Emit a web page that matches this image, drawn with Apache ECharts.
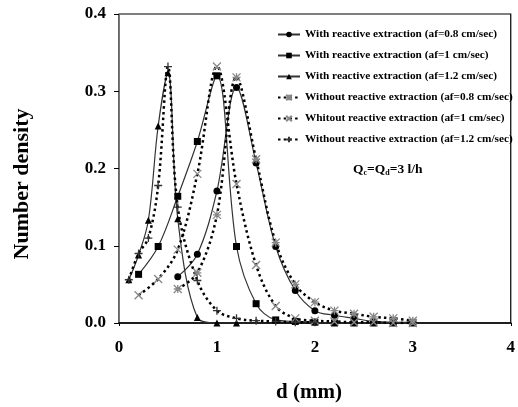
<!DOCTYPE html>
<html>
<head>
<meta charset="utf-8">
<script src="https://cdn.jsdelivr.net/npm/echarts@6/dist/echarts.min.js"></script>
<style>
  html, body { margin: 0; padding: 0; background: #fff; }
  #chart { width: 518px; height: 407px; }
</style>
</head>
<body>
<div id="chart"></div>
<script>
// legend names
var names = [
  'With reactive extraction (af=0.8 cm/sec)',
  'With reactive extraction (af=1 cm/sec)',
  'With reactive extraction (af=1.2 cm/sec)',
  'Without reactive extraction (af=0.8 cm/sec)',
  'Whitout reactive extraction (af=1 cm/sec)',
  'Without reactive extraction (af=1.2 cm/sec)'
]

// with reactive extraction, af=0.8
var xWith08 = [0.6, 0.8, 1.0, 1.2, 1.4, 1.6, 1.8, 2.0, 2.2, 2.4, 2.6, 2.8, 3.0]
var yWith08 = [0.060, 0.089, 0.171, 0.305, 0.207, 0.099, 0.042, 0.016, 0.010, 0.006, 0.002, 0.001, 0.001]
// with reactive extraction, af=1
var xWith1 = [0.2, 0.4, 0.6, 0.8, 1.0, 1.2, 1.4, 1.6, 1.8, 2.0, 2.2, 2.4, 2.6, 2.8, 3.0]
var yWith1 = [0.063, 0.099, 0.164, 0.235, 0.320, 0.099, 0.025, 0.004, 0.002, 0.001, 0, 0, 0, 0, 0]
// with reactive extraction, af=1.2
var xWith12 = [0.1, 0.2, 0.3, 0.4, 0.5, 0.6, 0.8, 1.0, 1.2]
var yWith12 = [0.056, 0.088, 0.133, 0.255, 0.324, 0.135, 0.007, 0, 0]
// without reactive extraction, af=0.8
var xWo08 = [0.6, 0.8, 1.0, 1.2, 1.4, 1.6, 1.8, 2.0, 2.2, 2.4, 2.6, 2.8, 3.0]
var yWo08 = [0.044, 0.065, 0.140, 0.318, 0.212, 0.104, 0.050, 0.027, 0.016, 0.012, 0.008, 0.006, 0.003]
// without reactive extraction, af=1
var xWo1 = [0.2, 0.4, 0.6, 0.8, 1.0, 1.2, 1.4, 1.6, 1.8, 2.0, 2.2, 2.4, 2.6, 2.8, 3.0]
var yWo1 = [0.036, 0.057, 0.095, 0.193, 0.332, 0.180, 0.075, 0.022, 0.006, 0.003, 0.002, 0.001, 0.001, 0, 0]
// without reactive extraction, af=1.2
var xWo12 = [0.1, 0.2, 0.3, 0.4, 0.5, 0.6, 0.8, 1.0, 1.2, 1.4, 1.6, 1.8, 2.0]
var yWo12 = [0.056, 0.090, 0.110, 0.178, 0.332, 0.150, 0.055, 0.016, 0.006, 0.003, 0.002, 0.001, 0.001]

var xTicks = [0, 1, 2, 3, 4]
var yTicks = [0, 0.1, 0.2, 0.3, 0.4]

var font = '"Liberation Serif", "Times New Roman", serif'

function pairs (xs, ys) {
  return xs.map(function (x, i) { return [x, ys[i]] })
}

var starPath = 'path://M0,0L10,10M10,0L0,10M5,0L5,10M0,5L10,5'
var crossPath = 'path://M0,0L10,10M10,0L0,10'
var plusPath = 'path://M5,0L5,10M0,5L10,5'

function solid (name, xs, ys, symbol, size) {
  return {
    name: name,
    type: 'line',
    data: pairs(xs, ys),
    smooth: 0.35,
    symbol: symbol,
    symbolSize: size,
    lineStyle: { color: '#333', width: 1.2, type: 'solid' },
    itemStyle: { color: '#000' }
  }
}

function dotted (name, xs, ys, symbol, color) {
  return {
    name: name,
    type: 'line',
    data: pairs(xs, ys),
    smooth: 0.35,
    symbol: symbol,
    symbolSize: 8,
    lineStyle: { color: '#000', width: 2.5, type: [2.5, 3.2] },
    itemStyle: { color: 'transparent', borderColor: color, borderWidth: 1.3 }
  }
}

var chart = echarts.init(document.getElementById('chart'))
chart.setOption({
  animation: false,
  backgroundColor: '#fff',
  grid: {
    left: 119, right: 2, top: 14, bottom: 84,
    show: true, borderColor: '#000', borderWidth: 1.2
  },
  legend: {
    data: names,
    orient: 'vertical',
    left: 272,
    top: 24,
    itemWidth: 22,
    itemHeight: 7,
    itemGap: 10,
    textStyle: { fontFamily: font, fontWeight: 'bold', fontSize: 11.3, color: '#000' }
  },
  xAxis: {
    type: 'value',
    min: xTicks[0],
    max: xTicks[xTicks.length - 1],
    interval: 1,
    axisLine: { lineStyle: { color: '#000', width: 1.6 } },
    axisTick: { show: true, length: 3, lineStyle: { color: '#000' } },
    splitLine: { show: false },
    axisLabel: { fontFamily: font, fontWeight: 'bold', fontSize: 17, color: '#000', margin: 16 }
  },
  yAxis: {
    type: 'value',
    min: yTicks[0],
    max: yTicks[yTicks.length - 1],
    interval: 0.1,
    axisLine: { show: true, lineStyle: { color: '#777', width: 1 } },
    axisTick: { show: true, length: 5, lineStyle: { color: '#000' } },
    splitLine: { show: false },
    axisLabel: {
      fontFamily: font, fontWeight: 'bold', fontSize: 17, color: '#000', margin: 13,
      formatter: function (v) { return v.toFixed(1) }
    }
  },
  graphic: [
    {
      type: 'text',
      left: 353,
      top: 163,
      style: {
        text: '{m|Q}{s|c}{m|=Q}{s|d}{m|=3 l/h}',
        rich: {
          m: { fontFamily: font, fontWeight: 'bold', fontSize: 13.5, fill: '#000' },
          s: { fontFamily: font, fontWeight: 'bold', fontSize: 8, fill: '#000', verticalAlign: 'bottom', padding: [6, 0, 0, 0] }
        }
      }
    },
    {
      type: 'text',
      x: 309,
      y: 393,
      style: {
        text: 'd (mm)',
        align: 'center',
        verticalAlign: 'middle',
        fontFamily: font, fontWeight: 'bold', fontSize: 21, fill: '#000'
      }
    },
    {
      type: 'text',
      x: 22,
      y: 184,
      rotation: Math.PI / 2,
      style: {
        text: 'Number density',
        align: 'center',
        verticalAlign: 'middle',
        fontFamily: font, fontWeight: 'bold', fontSize: 22, fill: '#000'
      }
    }
  ],
  series: [
    solid(names[0], xWith08, yWith08, 'circle', 7),
    solid(names[1], xWith1, yWith1, 'rect', 7),
    solid(names[2], xWith12, yWith12, 'triangle', 7),
    dotted(names[3], xWo08, yWo08, starPath, '#888'),
    dotted(names[4], xWo1, yWo1, crossPath, '#888'),
    dotted(names[5], xWo12, yWo12, plusPath, '#333')
  ]
})
</script>
</body>
</html>
